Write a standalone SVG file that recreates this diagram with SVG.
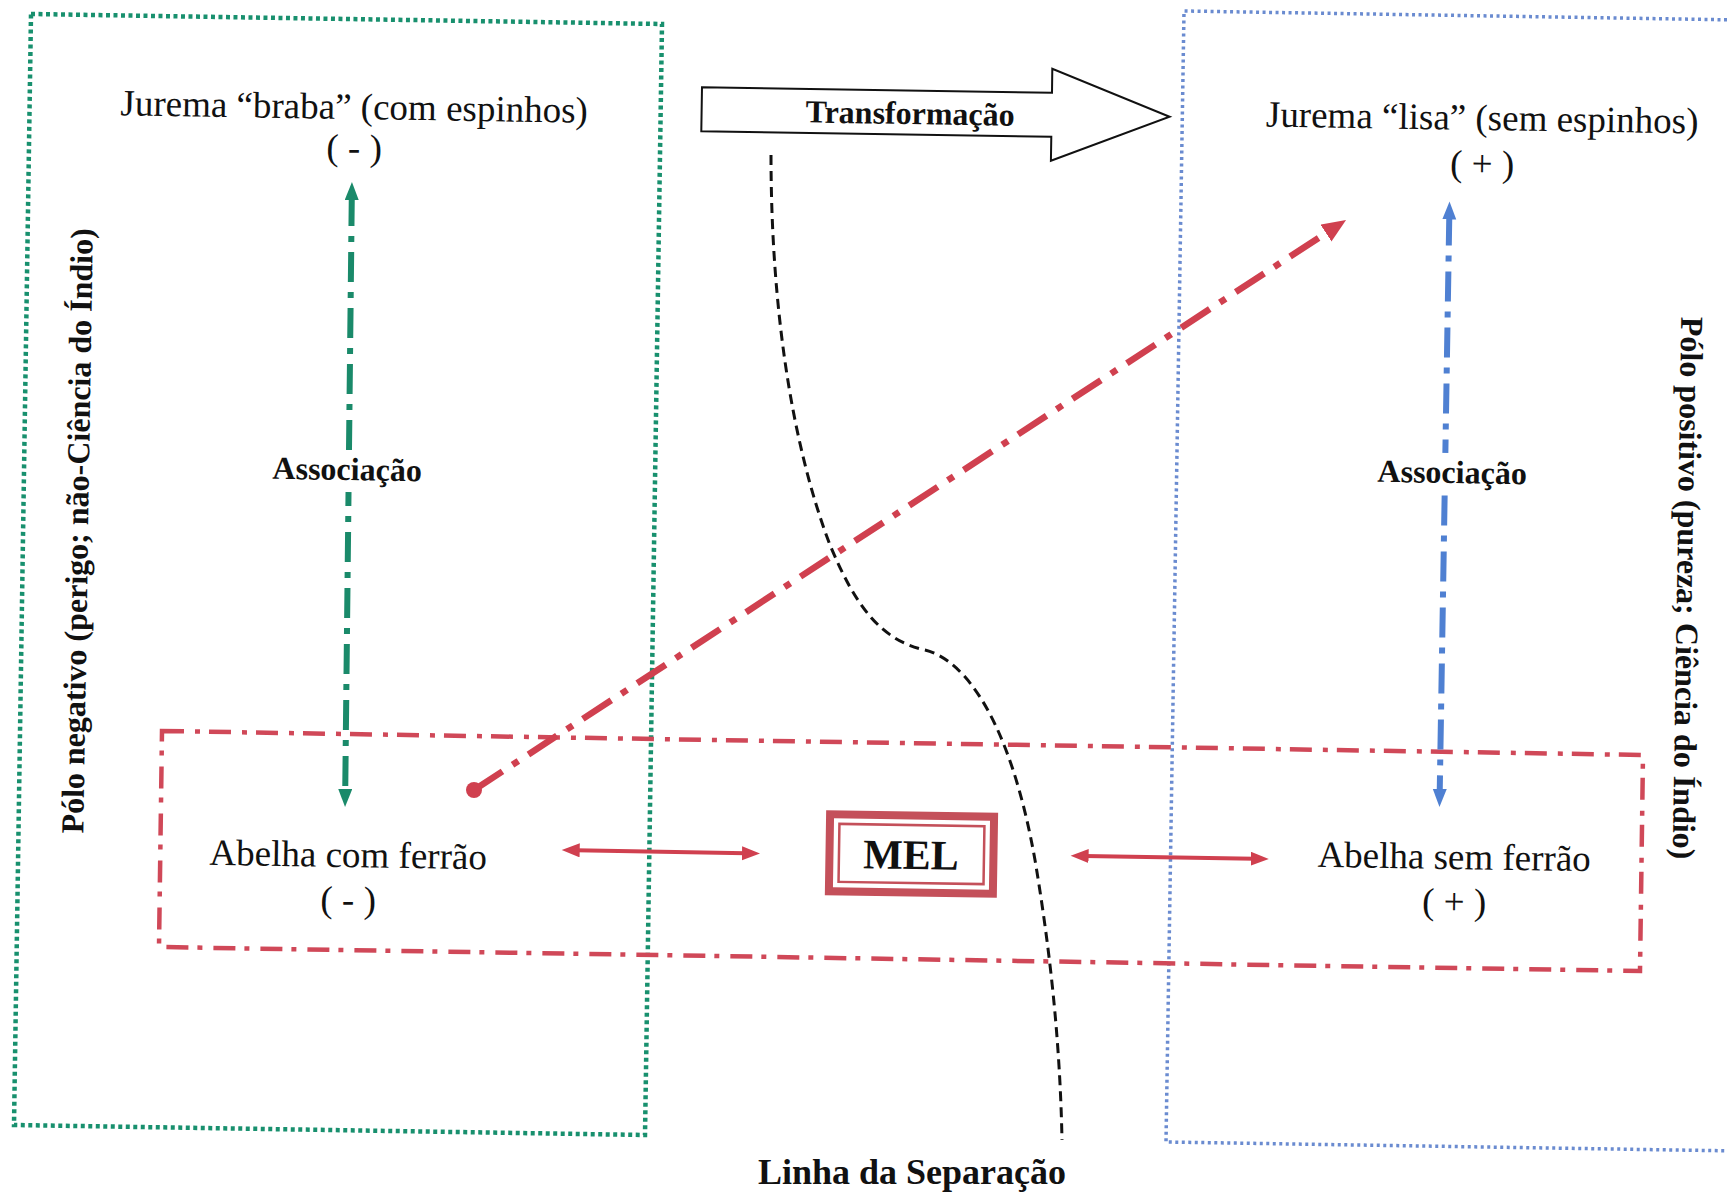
<svg xmlns="http://www.w3.org/2000/svg" width="1727" height="1195" viewBox="0 0 1727 1195">
<style>
.t{font-family:"Liberation Serif","Times New Roman",serif;fill:#111;}
.r{font-size:37px;}
.b{font-size:32px;font-weight:bold;}
.gbox{fill:none;stroke:#18906e;stroke-width:4.5;stroke-dasharray:4 3.5;}
.bbox{fill:none;stroke:#6a8bd0;stroke-width:3.5;stroke-dasharray:3 3.5;}
.rbox{fill:none;stroke:#d04858;stroke-width:4.5;stroke-dasharray:22 11 5 9;}
.sep{fill:none;stroke:#111;stroke-width:3;stroke-dasharray:10 6;}
.gl{stroke:#1a8a6a;stroke-width:6;stroke-dasharray:30 10 6 10;fill:none;}
.bl{stroke:#4f80d2;stroke-width:6;stroke-dasharray:30 10 6 10;fill:none;}
.rd{stroke:#d0404f;stroke-width:6.5;stroke-dasharray:34 12 7 12;fill:none;}
.rs{stroke:#d0404f;stroke-width:4;fill:none;}
.bg{fill:#fff;}
</style>
<defs>
<marker id="mg" markerUnits="userSpaceOnUse" markerWidth="20" markerHeight="16" refX="4" refY="7" orient="auto-start-reverse"><path d="M0,0 L18,7 L0,14 z" fill="#1a8a6a"/></marker>
<marker id="mb" markerUnits="userSpaceOnUse" markerWidth="20" markerHeight="16" refX="4" refY="7" orient="auto-start-reverse"><path d="M0,0 L18,7 L0,14 z" fill="#4f80d2"/></marker>
<marker id="mr" markerUnits="userSpaceOnUse" markerWidth="20" markerHeight="16" refX="4" refY="7" orient="auto-start-reverse"><path d="M0,0 L18,7 L0,14 z" fill="#d0404f"/></marker>
<marker id="mrl" markerUnits="userSpaceOnUse" markerWidth="26" markerHeight="22" refX="6" refY="10" orient="auto"><path d="M0,0 L24,10 L0,20 z" fill="#d0404f"/></marker>
</defs>
<rect width="1727" height="1195" fill="#fff"/>

<g id="polo-negativo">
<path class="gbox" d="M31,14 L662,24 L645,1135 L14,1125 Z"/>
<text class="t b" x="88" y="531" text-anchor="middle" transform="rotate(-89.1 88 531)">Pólo negativo (perigo; não-Ciência do Índio)</text>
</g>
<g id="polo-positivo">
<path class="bbox" d="M1740,20 L1184,11 L1166,1142 L1740,1151"/>
<text class="t b" x="1677" y="588" text-anchor="middle" transform="rotate(90.9 1677 588)">Pólo positivo (pureza; Ciência do Índio)</text>
</g>
<g id="mel-zone">
<path class="rbox" d="M162,731 L1643,755 L1640,971 L159,947 Z"/>
</g>

<g id="connectors">
<path class="sep" d="M771,155 C771,300 790,440 830,545 C855,605 880,640 925,650 C965,660 1010,720 1035,860 C1050,950 1060,1040 1062,1140"/>
<polygon points="702,87.3 1052,92.8 1052.3,68.8 1169.6,116.7 1050.9,160.8 1051.3,136.8 701.3,131.3" fill="#fff" stroke="#111" stroke-width="2"/>
<line class="gl" x1="351.8" y1="196" x2="345.2" y2="793" marker-start="url(#mg)" marker-end="url(#mg)"/>
<line class="bl" x1="1449.3" y1="215.5" x2="1439.7" y2="793" marker-start="url(#mb)" marker-end="url(#mb)"/>
<line class="rd" x1="474" y1="790" x2="1331" y2="229.8" marker-end="url(#mrl)"/>
<circle cx="474" cy="790" r="8" fill="#d0404f"/>
<line class="rs" x1="575.7" y1="850.3" x2="746" y2="853.3" marker-start="url(#mr)" marker-end="url(#mr)"/>
<line class="rs" x1="1084.6" y1="856" x2="1254.8" y2="858.8" marker-start="url(#mr)" marker-end="url(#mr)"/>
</g>

<g id="transformacao">
<text class="t b" x="910" y="124" text-anchor="middle" transform="rotate(0.9 910 124)">Transformação</text>
</g>
<g id="jurema-braba">
<text class="t r" x="354" y="119" text-anchor="middle" transform="rotate(0.9 354 119)">Jurema “braba” (com espinhos)</text>
<text class="t r" x="354" y="160" text-anchor="middle" transform="rotate(0.9 354 160)">( - )</text>
</g>
<g id="jurema-lisa">
<text class="t r" x="1482" y="130" text-anchor="middle" transform="rotate(0.9 1482 130)">Jurema “lisa” (sem espinhos)</text>
<text class="t r" x="1482" y="176" text-anchor="middle" transform="rotate(0.9 1482 176)">( + )</text>
</g>
<g id="associacao-esq" transform="rotate(0.9 347 480)">
<rect class="bg" x="268" y="450" width="158" height="42"/>
<text class="t b" x="347" y="480" text-anchor="middle">Associação</text>
</g>
<g id="associacao-dir" transform="rotate(0.9 1452 483)">
<rect class="bg" x="1373" y="453" width="158" height="42"/>
<text class="t b" x="1452" y="483" text-anchor="middle">Associação</text>
</g>
<g id="abelha-com">
<text class="t r" x="348" y="867" text-anchor="middle" transform="rotate(0.9 348 867)">Abelha com ferrão</text>
<text class="t r" x="348" y="912" text-anchor="middle" transform="rotate(0.9 348 912)">( - )</text>
</g>
<g id="abelha-sem">
<text class="t r" x="1454" y="869" text-anchor="middle" transform="rotate(0.9 1454 869)">Abelha sem ferrão</text>
<text class="t r" x="1454" y="914" text-anchor="middle" transform="rotate(0.9 1454 914)">( + )</text>
</g>
<g id="mel" transform="rotate(0.9 911 853)">
<rect x="829.5" y="815.5" width="164" height="77" fill="#fff" stroke="#c4505a" stroke-width="8"/>
<rect x="839" y="825" width="145" height="58" fill="none" stroke="#c4505a" stroke-width="2.5"/>
<text class="t" x="911" y="869" text-anchor="middle" font-size="42" font-weight="bold">MEL</text>
</g>
<g id="linha-separacao">
<text class="t" x="912" y="1184" text-anchor="middle" font-size="36" font-weight="bold">Linha da Separação</text>
</g>
</svg>
